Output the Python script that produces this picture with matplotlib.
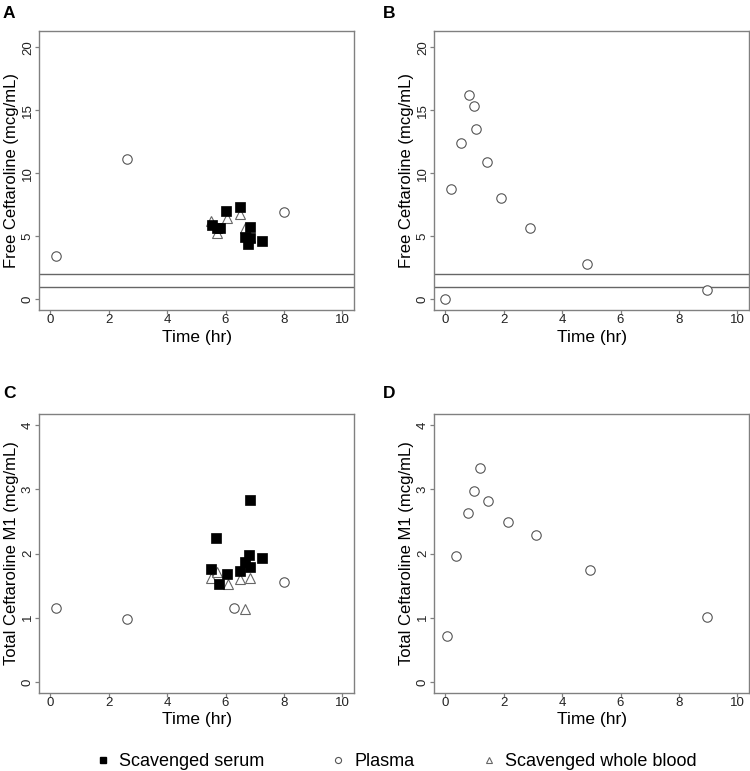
import numpy as np
import matplotlib.pyplot as plt
from matplotlib.lines import Line2D

plt.rcParams['font.family'] = ['Liberation Sans', 'DejaVu Sans']

# --- Дані: пацієнт 1 (панелі A, C) ---
a_plasma_t = [0.19, 2.62, 7.99]
a_plasma_free = [3.47, 11.13, 6.92]
a_serum_t = [6.03, 6.51, 5.52, 5.69, 5.80, 6.83, 6.66, 6.83, 6.77, 7.24]
a_serum_free = [7.04, 7.36, 5.91, 5.64, 5.64, 5.72, 4.93, 4.85, 4.40, 4.63]
a_blood_t = [5.50, 5.71, 6.05, 6.51, 6.66, 6.83]
a_blood_free = [6.25, 5.30, 6.44, 6.78, 5.64, 4.95]

c_plasma_t = [0.19, 2.62, 6.28, 7.99]
c_plasma_m1 = [1.154, 0.983, 1.159, 1.558]
c_serum_t = [6.83, 5.67, 6.80, 7.24, 6.66, 6.83, 6.51, 6.04, 5.51, 5.79]
c_serum_m1 = [2.836, 2.251, 1.977, 1.925, 1.868, 1.790, 1.728, 1.682, 1.754, 1.532]
c_blood_t = [5.50, 5.71, 6.09, 6.51, 6.83, 6.66]
c_blood_m1 = [1.62, 1.72, 1.53, 1.61, 1.62, 1.14]

# --- Дані: пацієнт 2 (панелі B, D) ---
b_plasma_t = [0.0, 0.19, 0.54, 0.81, 0.99, 1.06, 1.43, 1.91, 2.90, 4.84, 8.96]
b_plasma_free = [0.0, 8.72, 12.42, 16.24, 15.31, 13.48, 10.86, 8.03, 5.64, 2.81, 0.72]
d_plasma_t = [0.06, 0.37, 0.76, 0.97, 1.20, 1.45, 2.15, 3.12, 4.97, 8.96]
d_plasma_m1 = [0.714, 1.966, 2.639, 2.975, 3.333, 2.825, 2.489, 2.292, 1.739, 1.004]

mic_lines = [1, 2]
x_ticks = [0, 2, 4, 6, 8, 10]
free_ticks = [0, 5, 10, 15, 20]
m1_ticks = [0, 1, 2, 3, 4]

free_label = "Free Ceftaroline (mcg/mL)"
m1_label = "Total Ceftaroline M1 (mcg/mL)"

AXIS_GRAY = '#808080'
CIRCLE = dict(marker='o', ms=6.8, mfc='white', mec='#555555', mew=0.8, ls='none')
SQUARE = dict(marker='s', ms=6.6, mfc='black', mec='black', mew=0.5, ls='none')
TRIANGLE = dict(marker='^', ms=7.6, mfc='white', mec='#666666', mew=0.8, ls='none')


def style_axes(ax, yticks, ylim, ylabel):
    ax.set_xlim(-0.38, 10.4)
    ax.set_ylim(*ylim)
    ax.set_xticks(x_ticks)
    ax.set_yticks(yticks)
    for s in ax.spines.values():
        s.set_color(AXIS_GRAY)
        s.set_linewidth(1.0)
    ax.tick_params(direction='out', length=2.9, width=0.9, color=AXIS_GRAY,
                   labelsize=9.5, labelcolor='#222222')
    ax.tick_params(axis='x', pad=0)
    ax.tick_params(axis='y', labelrotation=90, pad=1)
    for lbl in ax.get_yticklabels():
        lbl.set_va('center')
    ax.set_xlabel("Time (hr)", fontsize=12.5)
    ax.set_ylabel(ylabel, fontsize=12)
    ax.xaxis.set_label_coords(0.5, -0.070)
    ax.yaxis.set_label_coords(-0.064, 0.5)


fig = plt.figure(figsize=(7.5, 7.71), dpi=100)

W = 0.4196
H = 0.3615
axA = fig.add_axes([0.0524, 0.5979, W, H])
axB = fig.add_axes([0.5790, 0.5979, W, H])
axC = fig.add_axes([0.0524, 0.1018, W, H])
axD = fig.add_axes([0.5790, 0.1018, W, H])

# Панель A
for y in mic_lines:
    axA.axhline(y, color='#666666', lw=1.0)
axA.plot(a_plasma_t, a_plasma_free, **CIRCLE)
axA.plot(a_blood_t, a_blood_free, **TRIANGLE)
axA.plot(a_serum_t, a_serum_free, **SQUARE)
style_axes(axA, free_ticks, (-0.85, 21.27), free_label)

# Панель B
for y in mic_lines:
    axB.axhline(y, color='#666666', lw=1.0)
axB.plot(b_plasma_t, b_plasma_free, **CIRCLE)
style_axes(axB, free_ticks, (-0.85, 21.27), free_label)

# Панель C
axC.plot(c_plasma_t, c_plasma_m1, **CIRCLE)
axC.plot(c_blood_t, c_blood_m1, **TRIANGLE)
axC.plot(c_serum_t, c_serum_m1, **SQUARE)
style_axes(axC, m1_ticks, (-0.166, 4.18), m1_label)

# Панель D
axD.plot(d_plasma_t, d_plasma_m1, **CIRCLE)
style_axes(axD, m1_ticks, (-0.166, 4.18), m1_label)

# Літери панелей
for letter, (x, y) in zip("ABCD", [(0.004, 0.982), (0.51, 0.982), (0.004, 0.49), (0.51, 0.49)]):
    fig.text(x, y, letter, fontsize=12.5, fontweight='bold', ha='left', va='center')

# Легенда
handles = [
    Line2D([], [], marker='s', ms=4.2, mfc='black', mec='black', ls='none'),
    Line2D([], [], marker='o', ms=4.4, mfc='white', mec='#555555', mew=0.8, ls='none'),
    Line2D([], [], marker='^', ms=5.0, mfc='white', mec='#666666', mew=0.8, ls='none'),
]
labels = ["Scavenged serum", "Plasma", "Scavenged whole blood"]
fig.legend(handles, labels, loc='center', bbox_to_anchor=(0.527, 0.012), ncol=3,
           frameon=False, fontsize=13, handlelength=1.0, handletextpad=0.4,
           columnspacing=3.6, borderpad=0)

fig.savefig("out.png", dpi=100)
